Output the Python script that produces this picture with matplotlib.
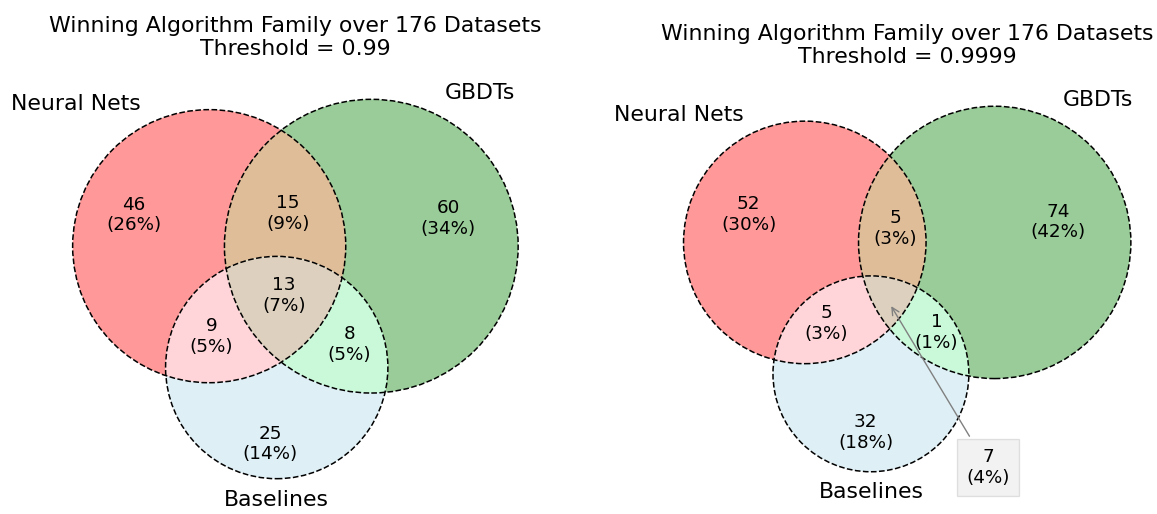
import numpy as np
import matplotlib
matplotlib.use("Agg")
import matplotlib.pyplot as plt
from matplotlib.colors import to_rgb
from matplotlib.patches import Circle, Polygon

plt.rcParams["font.size"] = 13.2

# regions: A only, B only, AB, C only, AC, BC, ABC
# A = Neural Nets, B = GBDTs, C = Baselines
region_ids = ["100", "010", "110", "001", "101", "011", "111"]
counts_099 = [46, 60, 15, 25, 9, 8, 13]
counts_09999 = [52, 74, 5, 32, 5, 1, 7]
thresholds = ["0.99", "0.9999"]
set_labels = ["Neural Nets", "GBDTs", "Baselines"]
set_colors = ["r", "g", "lightblue"]
n_datasets = 176


def lens_area(r1, r2, d):
    if d >= r1 + r2:
        return 0.0
    if d <= abs(r1 - r2):
        return np.pi * min(r1, r2) ** 2
    a1 = r1 ** 2 * np.arccos((d * d + r1 * r1 - r2 * r2) / (2 * d * r1))
    a2 = r2 ** 2 * np.arccos((d * d + r2 * r2 - r1 * r1) / (2 * d * r2))
    a3 = 0.5 * np.sqrt((-d + r1 + r2) * (d + r1 - r2) * (d - r1 + r2) * (d + r1 + r2))
    return a1 + a2 - a3


def dist_for_area(r1, r2, area):
    lo, hi = abs(r1 - r2), r1 + r2
    for _ in range(100):
        mid = (lo + hi) / 2
        if lens_area(r1, r2, mid) > area:
            lo = mid
        else:
            hi = mid
    return (lo + hi) / 2


def venn_layout(counts):
    a = dict(zip(region_ids, np.array(counts, float) / sum(counts)))
    sizes = [sum(v for k, v in a.items() if k[i] == "1") for i in range(3)]
    r = np.sqrt(np.array(sizes) / np.pi)
    d_ab = dist_for_area(r[0], r[1], a["110"] + a["111"])
    d_bc = dist_for_area(r[1], r[2], a["011"] + a["111"])
    d_ac = dist_for_area(r[0], r[2], a["101"] + a["111"])
    cx = (d_ac ** 2 - d_bc ** 2 + d_ab ** 2) / (2 * d_ab)
    cy = -np.sqrt(d_ac ** 2 - cx ** 2)
    centers = np.array([[0, 0], [d_ab, 0], [cx, cy]])
    w = r ** 2
    centers = centers - w @ centers / w.sum()
    return centers, r


def region_colors():
    base = [np.array(to_rgb(c)) for c in set_colors]

    def mix(*cols):
        k = 0.7 if len(cols) == 2 else 0.4
        return np.minimum(k * np.sum(cols, 0), 1.0)

    cols = {"100": base[0], "010": base[1], "001": base[2],
            "110": mix(base[0], base[1]), "101": mix(base[0], base[2]),
            "011": mix(base[1], base[2]), "111": mix(*base)}
    # alpha 0.4 on white
    return {k: 0.6 + 0.4 * v for k, v in cols.items()}


def intersection(circles, n=2000):
    pts = []
    for i, (c, r) in enumerate(circles):
        t = np.linspace(0, 2 * np.pi, n, endpoint=False)
        p = np.column_stack([c[0] + r * np.cos(t), c[1] + r * np.sin(t)])
        ok = np.ones(len(p), bool)
        for j, (c2, r2) in enumerate(circles):
            if j != i:
                ok &= np.hypot(p[:, 0] - c2[0], p[:, 1] - c2[1]) <= r2
        pts.append(p[ok])
    pts = np.vstack(pts)
    m = pts.mean(0)
    ang = np.arctan2(pts[:, 1] - m[1], pts[:, 0] - m[0])
    return pts[np.argsort(ang)]


def label_positions(centers, radii):
    # mean of the boundary arc midpoints, weighted by arc angle
    arcs = {k: [] for k in region_ids}
    for i in range(3):
        c, r = centers[i], radii[i]
        angs = []
        for j in range(3):
            if j == i:
                continue
            v = centers[j] - c
            d = np.hypot(*v)
            a = (d * d + r * r - radii[j] ** 2) / (2 * d)
            if abs(a) < r:
                base = np.arctan2(v[1], v[0])
                h = np.arccos(a / r)
                angs += [(base - h) % (2 * np.pi), (base + h) % (2 * np.pi)]
        angs = sorted(angs)
        for k in range(len(angs)):
            t0, t1 = angs[k], angs[(k + 1) % len(angs)]
            if t1 <= t0:
                t1 += 2 * np.pi
            tm = (t0 + t1) / 2
            p = c + r * np.array([np.cos(tm), np.sin(tm)])
            bits = [int(np.hypot(*(p - centers[j])) < radii[j]) for j in range(3)]
            for inside in (1, 0):
                bits[i] = inside
                key = "".join(map(str, bits))
                if key in arcs:
                    arcs[key].append((np.degrees(t1 - t0), p))
    pos = {}
    for k, lst in arcs.items():
        w = np.array([l for l, _ in lst])
        pts = np.array([p for _, p in lst])
        pos[k] = w @ pts / w.sum()
    return pos


fig = plt.figure(figsize=(11.57, 5.14), dpi=100)
W, H = 1157, 514
box_w, box_h = 516, 500
box_cx = [295.4, 907.2]
box_cy = 289
callout = [False, True]
colors = region_colors()

for idx, counts in enumerate([counts_099, counts_09999]):
    ax = fig.add_axes([(box_cx[idx] - box_w / 2) / W, (H - box_cy - box_h / 2) / H, box_w / W, box_h / H])
    centers, radii = venn_layout(counts)

    for k in sorted(region_ids, key=lambda s: s.count("1")):
        circ = [(centers[i], radii[i]) for i in range(3) if k[i] == "1"]
        if len(circ) == 1:
            ax.add_patch(Circle(circ[0][0], circ[0][1], fc=colors[k], ec="none"))
        else:
            ax.add_patch(Polygon(intersection(circ), closed=True, fc=colors[k], ec="none"))

    for i in range(3):
        ax.add_patch(Circle(centers[i], radii[i], fill=False, ec="black", lw=1.1, ls="dashed"))

    pos = label_positions(centers, radii)
    for k, n in zip(region_ids, counts):
        txt = f"{n}\n({n / n_datasets * 100:.0f}%)"
        if k == "111" and callout[idx]:
            ax.annotate(txt, xy=pos[k] - np.array([0, 0.025]), xytext=(71, -118), textcoords="offset points",
                        ha="center", va="center",
                        bbox=dict(boxstyle="square,pad=0.5", fc="gray", alpha=0.1),
                        arrowprops=dict(arrowstyle="->", color="gray"))
        else:
            ax.text(pos[k][0], pos[k][1], txt, ha="center", va="center")

    ax.text(centers[0][0] - radii[0] / 2, centers[0][1] + radii[0], set_labels[0], size="large", ha="right")
    ax.text(centers[1][0] + radii[1] / 2, centers[1][1] + radii[1], set_labels[1], size="large", ha="left")
    ax.text(centers[2][0], centers[2][1] - radii[2] * 1.1, set_labels[2], size="large", ha="center", va="top")

    ax.set_xlim((centers[:, 0] - radii).min() - 0.1, (centers[:, 0] + radii).max() + 0.1)
    ax.set_ylim((centers[:, 1] - radii).min() - 0.1, (centers[:, 1] + radii).max() + 0.1)
    ax.set_aspect("equal")
    ax.set_axis_off()
    ax.set_title(f"Winning Algorithm Family over {n_datasets} Datasets\nThreshold = {thresholds[idx]}", pad=6.6)

fig.savefig("out.png", dpi=100)
